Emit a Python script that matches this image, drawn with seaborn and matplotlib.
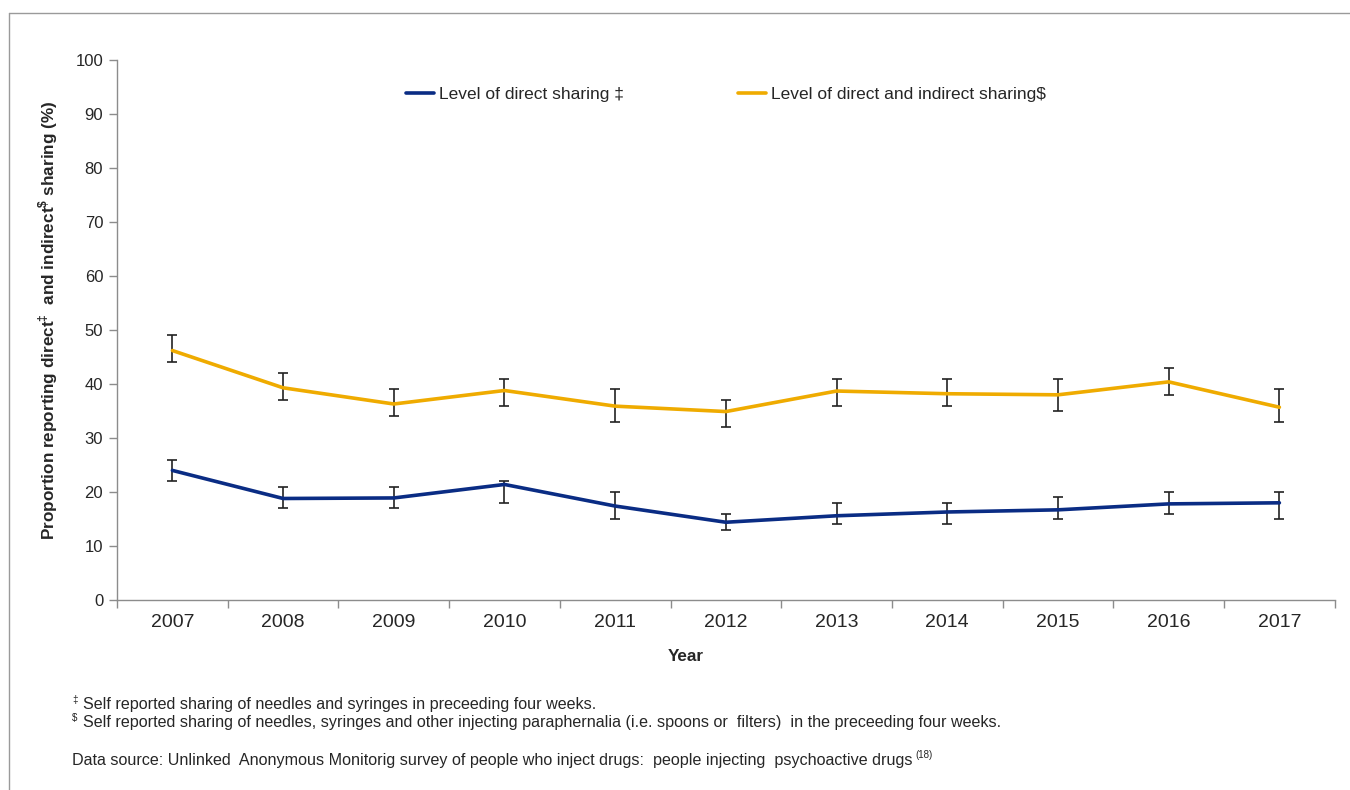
import numpy as np
import pandas as pd
import matplotlib
matplotlib.use('Agg')
import matplotlib.pyplot as plt
from matplotlib.lines import Line2D
import seaborn as sns

# values
years = [2007, 2008, 2009, 2010, 2011, 2012, 2013, 2014, 2015, 2016, 2017]
direct = [24.0, 18.8, 18.9, 21.4, 17.4, 14.4, 15.6, 16.3, 16.7, 17.8, 18.0]
direct_lo = [22, 17, 17, 18, 15, 13, 14, 14, 15, 16, 15]
direct_hi = [26, 21, 21, 22, 20, 16, 18, 18, 19, 20, 20]
both = [46.2, 39.3, 36.3, 38.8, 35.9, 34.9, 38.7, 38.2, 38.0, 40.4, 35.7]
both_lo = [44, 37, 34, 36, 33, 32, 36, 36, 35, 38, 33]
both_hi = [49, 42, 39, 41, 39, 37, 41, 41, 41, 43, 39]

lab_direct = 'Level of direct sharing \u2021'
lab_both = r'Level of direct and indirect sharing\$'

sns.set_style('white')
plt.rcParams['font.family'] = ['Liberation Sans', 'DejaVu Sans']
plt.rcParams['mathtext.fontset'] = 'custom'
plt.rcParams['mathtext.rm'] = 'Liberation Sans'
plt.rcParams['mathtext.bf'] = 'Liberation Sans:bold'

df = pd.DataFrame({
    'Year': years * 2,
    'value': direct + both,
    'series': [lab_direct] * len(years) + [lab_both] * len(years),
})

fig = plt.figure(figsize=(13.5, 7.9), dpi=100)
ax = fig.add_axes([0.0867, 0.2405, 0.902, 0.6835])

palette = {lab_direct: '#0a2c84', lab_both: '#efab00'}

# error bars first so lines sit on top
for vals, lo, hi in [(direct, direct_lo, direct_hi), (both, both_lo, both_hi)]:
    v = np.array(vals)
    err = np.vstack([v - np.array(lo), np.array(hi) - v])
    ax.errorbar(years, v, yerr=err, fmt='none', ecolor='#222222',
                elinewidth=1.2, capsize=3.5, capthick=1.2, zorder=2)

sns.lineplot(data=df, x='Year', y='value', hue='series', palette=palette,
             linewidth=2.6, ax=ax, zorder=3)

ax.set_xlim(2006.5, 2017.5)
ax.set_ylim(0, 100)
ax.set_yticks(range(0, 101, 10))
ax.set_xticks(years)
ax.set_xticks(np.arange(2006.5, 2018, 1), minor=True)
ax.tick_params(axis='x', which='major', length=0, labelsize=14, pad=10)
ax.tick_params(axis='x', which='minor', length=6, color='#8c8c8c', width=1, direction='out')
ax.tick_params(axis='y', length=6, color='#8c8c8c', width=1, direction='out', labelsize=12, pad=4)
ax.xaxis.set_tick_params(bottom=True, which='both')
ax.yaxis.set_tick_params(left=True)

for s in ['top', 'right']:
    ax.spines[s].set_visible(False)
for s in ['left', 'bottom']:
    ax.spines[s].set_color('#8c8c8c')
    ax.spines[s].set_linewidth(1)

ax.set_xlabel('Year', fontsize=12.3, fontweight='bold')
ax.xaxis.set_label_coords(0.467, -0.091)
ax.set_ylabel('Proportion reporting direct$^{\\mathbf{\u2021}}$  and indirect$^{\\mathbf{\\$}}$ sharing (%)',
              fontsize=12.3, fontweight='bold')
ax.yaxis.set_label_coords(-0.047, 0.517)

ax.legend(loc='upper center', bbox_to_anchor=(0.5, 0.98), ncol=2, frameon=False,
          fontsize=12.5, handlelength=1.6, handletextpad=0.3, columnspacing=6.6)

# footnotes
fs = 11.6
fig.text(0.0535, 1 - 700 / 790, '\u2021', fontsize=7, va='center')
fig.text(0.0615, 1 - 705 / 790, 'Self reported sharing of needles and syringes in preceeding four weeks.',
         fontsize=fs, va='center')
fig.text(0.0535, 1 - 718 / 790, '$', fontsize=7, va='center')
fig.text(0.0615, 1 - 723 / 790, 'Self reported sharing of needles, syringes and other injecting paraphernalia (i.e. spoons or  filters)  in the preceeding four weeks.',
         fontsize=fs, va='center')
src = fig.text(0.0535, 1 - 760 / 790, 'Data source: Unlinked  Anonymous Monitorig survey of people who inject drugs:  people injecting  psychoactive drugs',
               fontsize=fs, va='center')
fig.canvas.draw()
bb = src.get_window_extent()
fig.text((bb.x1 + 3) / fig.bbox.width, 1 - 755 / 790, '(18)', fontsize=7, va='center')

# thin grey frame lines (top and left only, as in the reference)
fig.add_artist(Line2D([9 / 1350, 9 / 1350], [0, 1 - 13 / 790], transform=fig.transFigure,
                      color='#9a9a9a', linewidth=1))
fig.add_artist(Line2D([9 / 1350, 1], [1 - 13 / 790, 1 - 13 / 790], transform=fig.transFigure,
                      color='#9a9a9a', linewidth=1))

fig.savefig('out.png', dpi=100)
